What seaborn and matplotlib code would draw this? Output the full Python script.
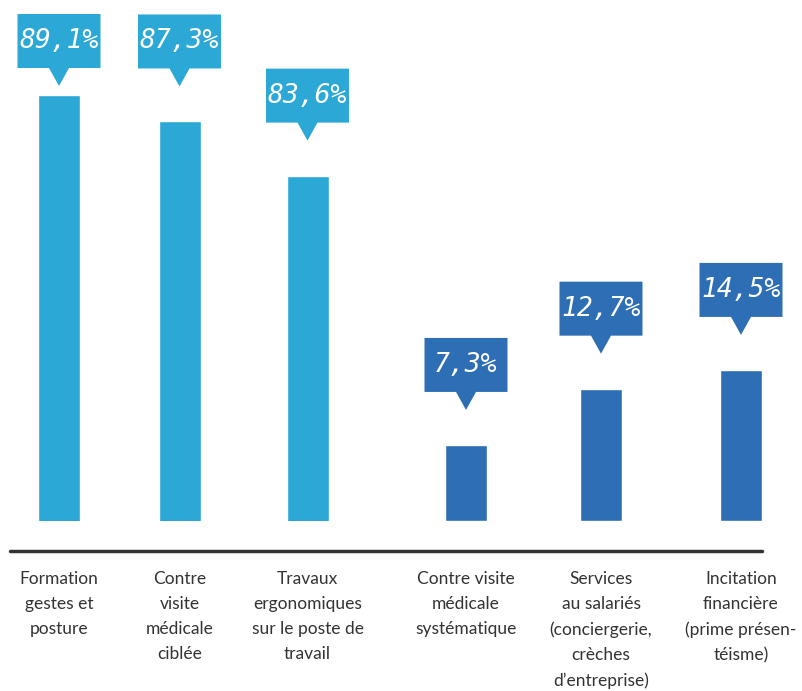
import numpy as np
import matplotlib
matplotlib.use("Agg")
import matplotlib.pyplot as plt
from matplotlib.patches import Polygon
import seaborn as sns

# data
left_labels = ["Formation\ngestes et\nposture",
               "Contre\nvisite\nmédicale\nciblée",
               "Travaux\nergonomiques\nsur le poste de\ntravail"]
left_values = [89.1, 87.3, 83.6]

right_labels = ["Contre visite\nmédicale\nsystématique",
                "Services\nau salariés\n(conciergerie,\ncrèches\nd’entreprise)",
                "Incitation\nfinancière\n(prime présen-\ntéisme)"]
right_values = [7.3, 12.7, 14.5]

# layout (pixel units across the figure width)
W, H = 802, 691
left_pos = [59, 179.5, 307.5]
right_pos = [466, 601, 741]
bar_px = 42
light_blue = "#2CA8D6"
dark_blue = "#2E6EB4"

sns.set_theme(style="white")
plt.rcParams['font.family'] = ['Lato', 'DejaVu Sans']

fig = plt.figure(figsize=(W / 100, H / 100), dpi=100)
base_y = 521  # baseline of bars, px from top
ax = fig.add_axes([0, (H - base_y) / H, 1, base_y / H])
ax2 = ax.twinx()

sns.barplot(x=left_pos, y=left_values, native_scale=True, color=light_blue,
            saturation=1, width=bar_px / np.diff(left_pos).min(),
            errorbar=None, ax=ax)
sns.barplot(x=right_pos, y=right_values, native_scale=True, color=dark_blue,
            saturation=1, width=bar_px / np.diff(right_pos).min(),
            errorbar=None, ax=ax2)

ax.set_xlim(0, W)
ax.set_ylim(60, 95.6)
ax2.set_ylim(0, 50)
for a in (ax, ax2):
    a.set_yticks([])
    a.set_ylabel("")
    for s in a.spines.values():
        s.set_visible(False)
ax.set_xticks(left_pos + right_pos)
ax.set_xticklabels(left_labels + right_labels, fontsize=12.5, color="#333333",
                   linespacing=1.7, va="top")
ax.tick_params(axis="x", length=0, pad=36)

# horizontal rule under the bars
ax.plot([10, 762], [-30 / base_y] * 2, color="#333333", lw=2.5,
        transform=ax.get_xaxis_transform(), clip_on=False)

# callout boxes
box_w, box_h, tri_w, tri_h, gap = 83, 54, 20, 18, 35
def callout(a, x, v, col):
    _, top = a.transData.transform((x, v))  # display px, from bottom
    tip = top + gap
    box_top = min(tip + tri_h + box_h, H - 14)
    box_bot = box_top - box_h
    tip = box_bot - tri_h
    cx = x
    pts = [(cx - box_w / 2, box_top), (cx + box_w / 2, box_top),
           (cx + box_w / 2, box_bot), (cx + tri_w / 2, box_bot),
           (cx, tip), (cx - tri_w / 2, box_bot), (cx - box_w / 2, box_bot)]
    pts = [(px / W, py / H) for px, py in pts]
    fig.add_artist(Polygon(pts, closed=True, facecolor=col, edgecolor="none",
                           transform=fig.transFigure))
    txt = f"{v:.1f}%".replace(".", ",")
    fig.text(cx / W, (box_top - box_h / 2) / H, txt, ha="center", va="center",
             color="white", fontsize=19, style="italic",
             family="DejaVu Sans Mono")

for x, v in zip(left_pos, left_values):
    callout(ax, x, v, light_blue)
for x, v in zip(right_pos, right_values):
    callout(ax2, x, v, dark_blue)

fig.savefig("out.png", dpi=100)
